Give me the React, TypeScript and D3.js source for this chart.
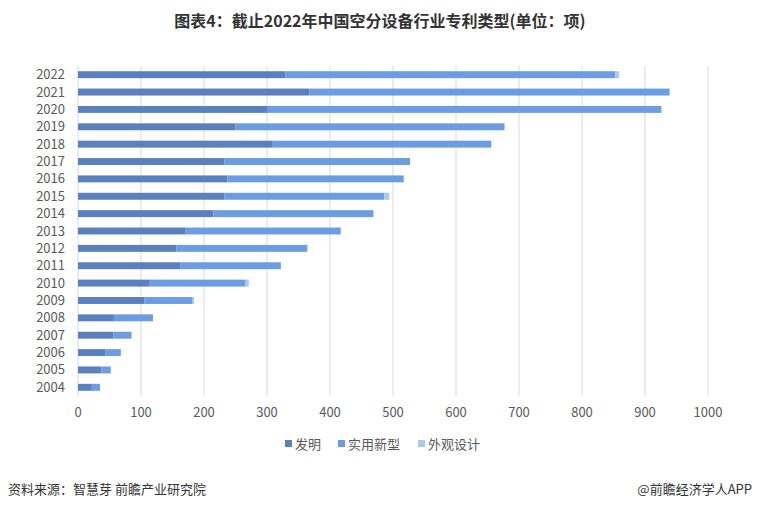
import React, { useEffect, useRef } from 'react';
import * as d3 from 'd3';

// data, years ascending
const years = ['2004', '2005', '2006', '2007', '2008', '2009', '2010', '2011', '2012', '2013',
  '2014', '2015', '2016', '2017', '2018', '2019', '2020', '2021', '2022'];
const invention = [22, 37, 43, 56, 57, 105, 114, 163, 156, 170, 215, 232, 237, 232, 308, 250, 300, 367, 329];
const utility = [13, 15, 25, 29, 62, 77, 152, 159, 208, 247, 254, 254, 280, 295, 348, 427, 626, 572, 524];
const design = [0, 0, 0, 0, 0, 2, 5, 0, 0, 0, 0, 8, 0, 0, 0, 0, 0, 0, 6];
const seriesNames = ['发明', '实用新型', '外观设计'];
const xTicks = [0, 100, 200, 300, 400, 500, 600, 700, 800, 900, 1000];

const colors = ['#5a80bd', '#6c9de2', '#aac7ee'];
const FONT = '"Noto Sans CJK SC", "Noto Sans", sans-serif';

const App = () => {
  const svgRef = useRef<SVGSVGElement | null>(null);

  useEffect(() => {
    if (!svgRef.current) return;
    const svg = d3.select(svgRef.current);
    svg.selectAll('*').remove();

    const W = 760, H = 509;
    const plot = { left: 78, right: 708, top: 66, bottom: 396 };

    svg.append('rect').attr('width', W).attr('height', H).attr('fill', '#ffffff');

    // title
    svg.append('text')
      .attr('x', W / 2)
      .attr('y', 27)
      .attr('text-anchor', 'middle')
      .style('font-family', FONT)
      .style('font-size', '16px')
      .style('font-weight', 'bold')
      .style('fill', '#333333')
      .text('图表4：截止2022年中国空分设备行业专利类型(单位：项)');

    const x = d3.scaleLinear().domain([0, 1000]).range([plot.left, plot.right]);
    const y = d3.scaleBand()
      .domain([...years].reverse())
      .range([plot.top, plot.bottom])
      .paddingInner(0.6)
      .paddingOuter(0.3);

    // gridlines
    svg.append('g')
      .selectAll('line')
      .data(xTicks)
      .enter()
      .append('line')
      .attr('x1', d => x(d))
      .attr('x2', d => x(d))
      .attr('y1', plot.top)
      .attr('y2', plot.bottom)
      .attr('stroke', '#d9d9d9')
      .attr('stroke-width', 1);

    // stacked bars
    const rows = years.map((yr, i) => ({ year: yr, 发明: invention[i], 实用新型: utility[i], 外观设计: design[i] }));
    const stacked = d3.stack<any>().keys(seriesNames)(rows);

    stacked.forEach((layer, si) => {
      svg.append('g')
        .selectAll('rect')
        .data(layer)
        .enter()
        .append('rect')
        .attr('x', d => x(d[0]))
        .attr('y', d => y(d.data.year) as number)
        .attr('width', d => Math.max(0, x(d[1]) - x(d[0])))
        .attr('height', y.bandwidth())
        .attr('fill', colors[si]);
    });

    // y labels
    svg.append('g')
      .selectAll('text')
      .data(years)
      .enter()
      .append('text')
      .attr('x', 65)
      .attr('y', d => (y(d) as number) + y.bandwidth() / 2)
      .attr('dy', '0.35em')
      .attr('text-anchor', 'end')
      .style('font-family', FONT)
      .style('font-size', '13px')
      .style('fill', '#595959')
      .text(d => d);

    // x labels
    svg.append('g')
      .selectAll('text')
      .data(xTicks)
      .enter()
      .append('text')
      .attr('x', d => x(d))
      .attr('y', 417)
      .attr('text-anchor', 'middle')
      .style('font-family', FONT)
      .style('font-size', '13px')
      .style('fill', '#595959')
      .text(d => d);

    // legend
    const legendX = [285, 338, 418];
    seriesNames.forEach((name, i) => {
      const g = svg.append('g').attr('transform', `translate(${legendX[i]}, 444)`);
      g.append('rect')
        .attr('x', 0)
        .attr('y', -4)
        .attr('width', 7)
        .attr('height', 7)
        .attr('fill', colors[i]);
      g.append('text')
        .attr('x', 10)
        .attr('y', 0)
        .attr('dy', '0.35em')
        .style('font-family', FONT)
        .style('font-size', '13px')
        .style('fill', '#595959')
        .text(name);
    });

    // footer
    svg.append('text')
      .attr('x', 8)
      .attr('y', 494)
      .style('font-family', FONT)
      .style('font-size', '13px')
      .style('fill', '#333333')
      .text('资料来源：智慧芽 前瞻产业研究院');

    svg.append('text')
      .attr('x', 752)
      .attr('y', 494)
      .attr('text-anchor', 'end')
      .style('font-family', FONT)
      .style('font-size', '13px')
      .style('fill', '#333333')
      .text('@前瞻经济学人APP');
  }, []);

  return (
    <div style={{ position: 'fixed', left: 0, top: 0 }}>
      <svg ref={svgRef} width={760} height={509} style={{ display: 'block' }}></svg>
    </div>
  );
};

export default App;
